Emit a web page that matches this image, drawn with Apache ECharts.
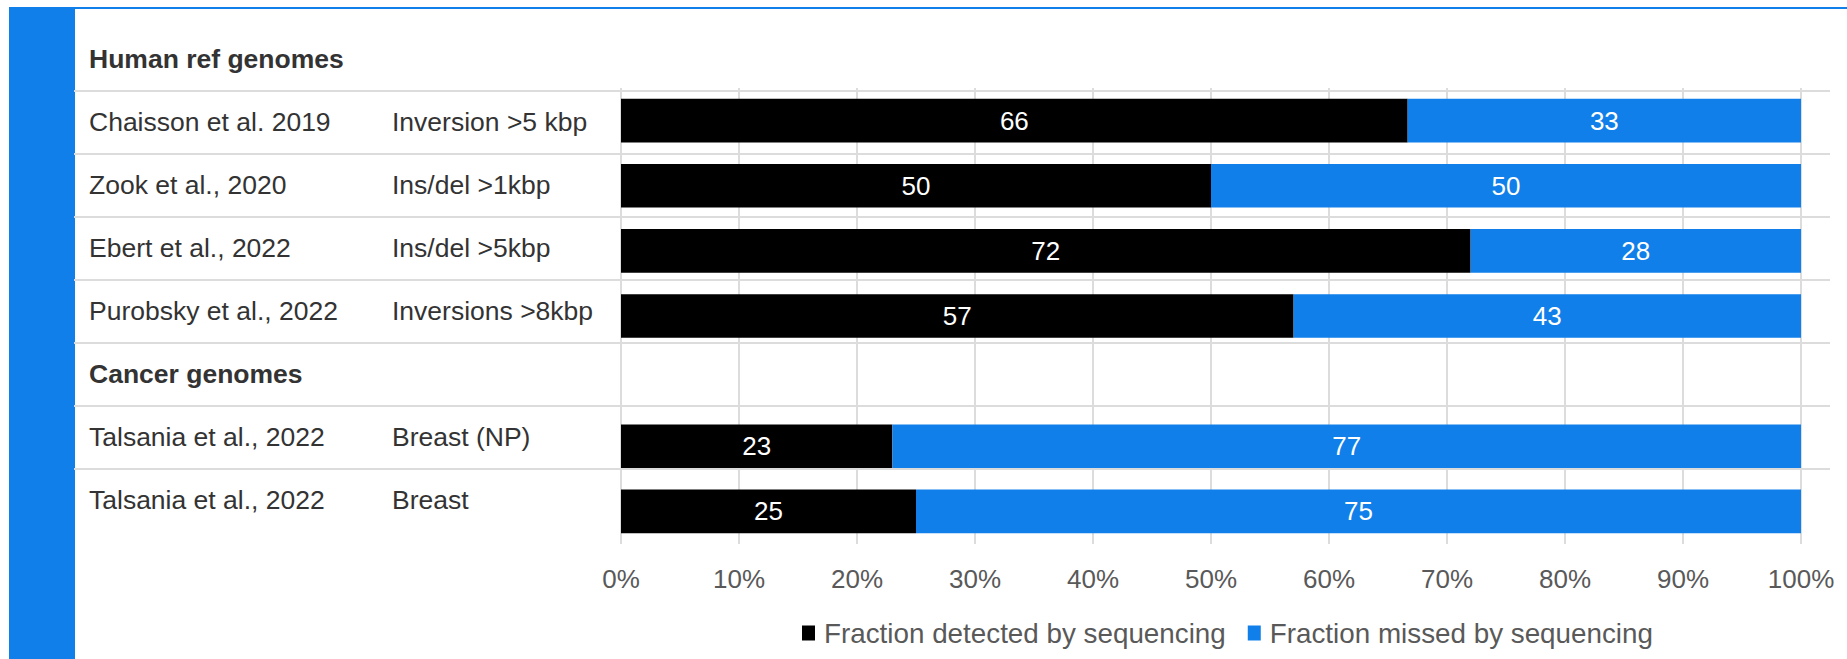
<!DOCTYPE html>
<html>
<head>
<meta charset="utf-8">
<script src="https://cdn.jsdelivr.net/npm/echarts@6/dist/echarts.min.js"></script>
<style>
  html, body { margin: 0; padding: 0; background: #ffffff; }
  #chart { width: 1847px; height: 659px; }
</style>
</head>
<body>
<div id="chart"></div>
<script>
// Table rows: study and structural-variant class (group headers carry no class)
const studies = [
  'Human ref genomes',
  'Chaisson et al. 2019',
  'Zook et al., 2020',
  'Ebert et al., 2022',
  'Purobsky et al., 2022',
  'Cancer genomes',
  'Talsania et al., 2022',
  'Talsania et al., 2022'
];
const variantTypes = ['', 'Inversion >5 kbp', 'Ins/del >1kbp', 'Ins/del >5kbp', 'Inversions >8kbp', '', 'Breast (NP)', 'Breast'];
const headerRows = [0, 5];

// Bar rows; the cancer group header is an empty row
const barRows = [
  'Chaisson et al. 2019 · Inversion >5 kbp',
  'Zook et al., 2020 · Ins/del >1kbp',
  'Ebert et al., 2022 · Ins/del >5kbp',
  'Purobsky et al., 2022 · Inversions >8kbp',
  'Cancer genomes',
  'Talsania et al., 2022 · Breast (NP)',
  'Talsania et al., 2022 · Breast'
];
const detected = [66, 50, 72, 57, null, 23, 25];
const missed   = [33, 50, 28, 43, null, 77, 75];

const seriesNames = ['Fraction detected by sequencing', 'Fraction missed by sequencing'];
const tickFormat = '{value}%';

const FONT = "'Liberation Sans', Arial, sans-serif";
const BLUE = '#117fe9';
const GRID_GRAY = '#dcdcdc';
const ROW_FONT = 26.5;

// 100% stacked: each segment is drawn as its share of the row total
function shares(values) {
  return values.map((v, i) => {
    if (v == null) return '-';
    return v / (detected[i] + missed[i]) * 100;
  });
}

const chart = echarts.init(document.getElementById('chart'), null, { renderer: 'svg' });

chart.setOption({
  animation: false,
  backgroundColor: '#ffffff',
  textStyle: { fontFamily: FONT },
  graphic: [
    { type: 'rect', shape: { x: 9, y: 7, width: 66, height: 652 }, style: { fill: BLUE }, silent: true },
    { type: 'rect', shape: { x: 75, y: 7, width: 1772, height: 2 }, style: { fill: BLUE }, silent: true }
  ],
  legend: {
    left: 802,
    top: 619,
    padding: 0,
    itemGap: 22,
    itemWidth: 13,
    itemHeight: 15,
    icon: 'rect',
    data: seriesNames,
    textStyle: { fontSize: 27.8, color: '#595959', fontFamily: FONT, padding: [0, 0, 0, 4] }
  },
  grid: [
    { left: 621, right: 46, top: 88, bottom: 115 },
    { left: 74, right: 17, top: 27.5, bottom: 127.5 }
  ],
  xAxis: [
    {
      gridIndex: 0,
      type: 'value',
      min: 0,
      max: 100,
      interval: 10,
      axisLine: { show: false },
      axisTick: { show: false },
      splitLine: { show: true, lineStyle: { color: GRID_GRAY, width: 2 } },
      axisLabel: {
        formatter: tickFormat,
        fontSize: 26,
        color: '#595959',
        fontFamily: FONT,
        margin: 22
      }
    },
    { gridIndex: 1, type: 'value', min: 0, max: 1, show: false }
  ],
  yAxis: [
    {
      gridIndex: 0,
      type: 'category',
      inverse: true,
      data: barRows,
      axisLine: { show: false },
      axisTick: { show: false },
      axisLabel: { show: false },
      splitLine: { show: false }
    },
    {
      gridIndex: 1,
      type: 'category',
      inverse: true,
      data: studies,
      axisLine: { show: false },
      axisTick: { show: false },
      splitLine: {
        show: true,
        showMinLine: false,
        showMaxLine: false,
        lineStyle: { color: GRID_GRAY, width: 2 }
      },
      axisLabel: {
        inside: true,
        margin: 15,
        interval: 0,
        formatter: function (value, index) {
          if (headerRows.indexOf(index) >= 0) return '{h|' + value + '}';
          return '{a|' + value + '}{b|' + variantTypes[index] + '}';
        },
        rich: {
          h: { fontSize: ROW_FONT, fontWeight: 'bold', color: '#333333', fontFamily: FONT },
          a: { fontSize: ROW_FONT, color: '#333333', width: 303, fontFamily: FONT },
          b: { fontSize: ROW_FONT, color: '#333333', fontFamily: FONT }
        }
      }
    }
  ],
  series: [
    {
      name: seriesNames[0],
      type: 'bar',
      stack: 'total',
      xAxisIndex: 0,
      yAxisIndex: 0,
      barWidth: '67%',
      itemStyle: { color: '#000000' },
      label: {
        show: true,
        position: 'inside',
        color: '#ffffff',
        fontSize: 26,
        fontFamily: FONT,
        formatter: p => String(detected[p.dataIndex])
      },
      data: shares(detected)
    },
    {
      name: seriesNames[1],
      type: 'bar',
      stack: 'total',
      xAxisIndex: 0,
      yAxisIndex: 0,
      barWidth: '67%',
      itemStyle: { color: BLUE },
      label: {
        show: true,
        position: 'inside',
        color: '#ffffff',
        fontSize: 26,
        fontFamily: FONT,
        formatter: p => String(missed[p.dataIndex])
      },
      data: shares(missed)
    }
  ]
});
</script>
</body>
</html>
